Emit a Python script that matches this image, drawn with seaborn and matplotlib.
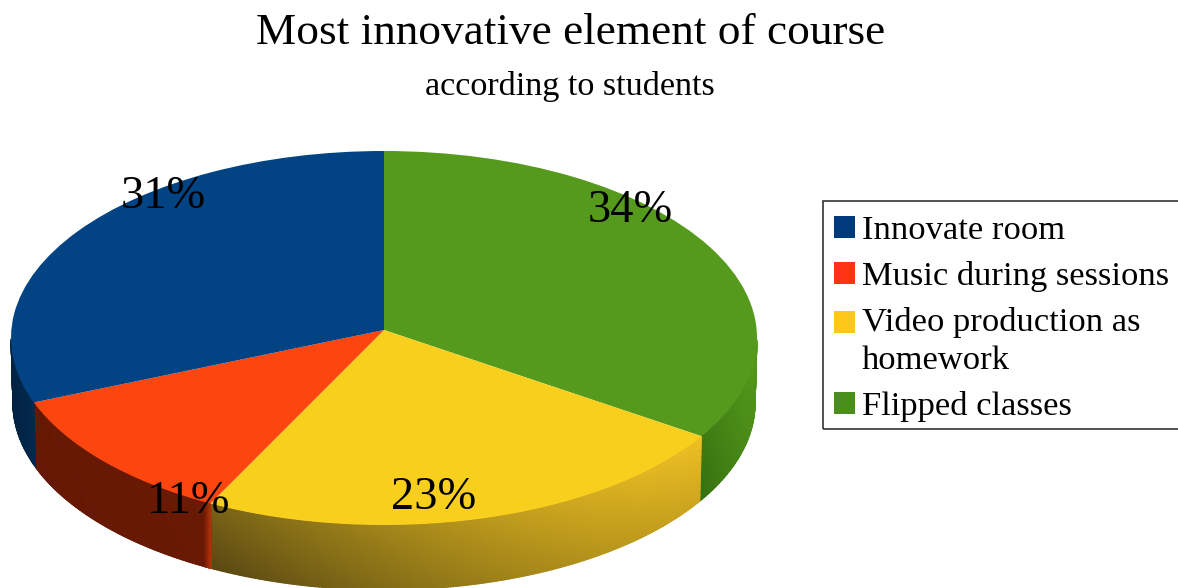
import numpy as np
import matplotlib.pyplot as plt
import seaborn as sns
from matplotlib.colors import LinearSegmentedColormap
from matplotlib.patches import Patch, Rectangle

categories = ['Innovate room', 'Music during sessions', 'Video production as\nhomework', 'Flipped classes']
shares = [31, 11, 23, 34]                # printed labels
slice_sizes = [30.6, 11.7, 23.9, 33.8]   # slice sizes as drawn in the picture

top_colors = ['#024383', '#fc450f', '#f9cf1e', '#559a1c']
legend_colors = ['#003a7d', '#ff3311', '#ffc71a', '#4a8f1c']
rim_maps = [['#02223f', '#022a52'],
            ['#651803', '#6a1a05'],
            ['#5a4813', '#8a7217', '#bd9a1c', '#eec024'],
            ['#35700f', '#559a1c']]

W, H = 1178, 588
CX, CY, RX, RY = 384, 338, 373, 187   # top ellipse in pixels
APEX_Y = 330
DEPTH = 65
label_px = [(163, 197), (189, 502), (434, 498), (630, 211)]

sns.set_theme(style='white')
plt.rcParams['font.family'] = ['Liberation Serif', 'DejaVu Serif']

def px(x, y):
    return (x - CX) / RX, (CY - y) / RY

def rim_mesh(t):
    T, S = np.meshgrid(t, np.linspace(0, 1, 12))
    X = np.cos(T) * (1 - 0.005 * S)
    Y = np.sin(T) - DEPTH / RY * S
    return X, Y, S

fig = plt.figure(figsize=(W / 100, H / 100), dpi=100)
ax = fig.add_axes([0, 0, 1, 1])

# pie order is clockwise from the top, green first
order = [3, 2, 1, 0]
wedges, _ = ax.pie([slice_sizes[i] for i in order], colors=[top_colors[i] for i in order],
                   startangle=90, counterclock=False, radius=1,
                   wedgeprops={'linewidth': 0}, normalize=True)
ax.set_aspect('auto')
ax.set_xlim(px(0, 0)[0], px(W, 0)[0])
ax.set_ylim(px(0, H)[1], px(0, 0)[1])

# rim, only the front half of the ellipse shows
for w, i in zip(wedges, order):
    t = np.linspace(np.radians(w.theta1), np.radians(w.theta2), 200)
    t = t[np.sin(t) <= 0]
    if len(t) < 2:
        continue
    X, Y, S = rim_mesh(t)
    C = (X - X.min()) / (np.ptp(X) + 1e-9) * 0.78 + (1 - S) * 0.22
    cmap = LinearSegmentedColormap.from_list(f'rim{i}', rim_maps[i])
    ax.pcolormesh(X, Y, C, shading='gouraud', cmap=cmap, vmin=0, vmax=1, zorder=0.5)
    if i == 1:
        # lit sliver where red meets yellow
        X, Y, S = rim_mesh(t[np.cos(t) > np.cos(t).max() - 0.02])
        edge = LinearSegmentedColormap.from_list('edge', ['#651803', '#b8350c'])
        C = (X - X.min()) / (np.ptp(X) + 1e-9)
        ax.pcolormesh(X, Y, C, shading='gouraud', cmap=edge, vmin=0, vmax=1, zorder=0.6)

# apex of the slices sits above the ellipse centre
apex = np.array(px(CX, APEX_Y))
for w in wedges:
    w.set_zorder(1)
    v = w.get_path().vertices
    v[np.hypot(v[:, 0], v[:, 1]) < 1e-6] = apex

for i, (x, y) in enumerate(label_px):
    ax.text(*px(x, y), f'{shares[i]}%', ha='center', va='center', fontsize=33.5, color='black', zorder=3)

fig.text(571 / W, 1 - 33 / H, 'Most innovative element of course', ha='center', va='center', fontsize=32.6, color='black')
fig.text(570 / W, 1 - 87 / H, 'according to students', ha='center', va='center', fontsize=24.6, color='black')

handles = [Patch(facecolor=c, edgecolor='none') for c in legend_colors]
leg = ax.legend(handles, categories, loc='upper left', bbox_to_anchor=(823 / W, 1 - 201 / H),
                bbox_transform=fig.transFigure, borderaxespad=0, fontsize=24.8, frameon=False,
                handlelength=0.61, handleheight=0.61,
                handletextpad=0.104, labelspacing=0.43, borderpad=0.42, labelcolor='black')
for txt in leg.get_texts():
    txt.set_linespacing(1.34)

# legend's own frame comes out too tall, box runs off the right edge like the original
fig.add_artist(Rectangle((823 / W, 1 - 429 / H), 365 / W, 228 / H, transform=fig.transFigure,
                         fill=False, edgecolor='#333333', linewidth=1.2))

# swatch of the two line entry goes on its first line, all sit a bit left
swatches = leg.get_patches()
for s in swatches:
    s.set_x(s.get_x() - 3 * 72 / 100)
swatches[2].set_y(swatches[2].get_y() + 19 * 72 / 100)

fig.savefig('out.png', dpi=100, facecolor='white')
